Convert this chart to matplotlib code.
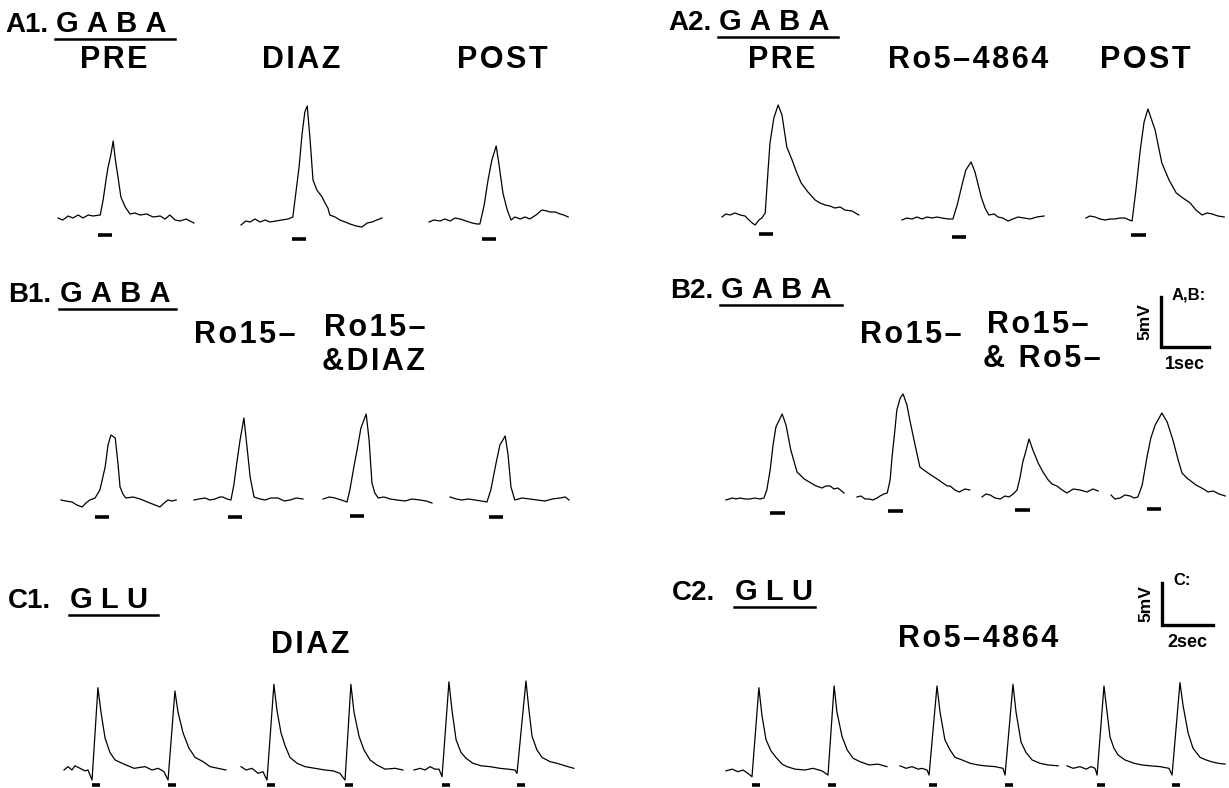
import matplotlib.pyplot as plt
from matplotlib.transforms import Affine2D

plt.rcParams['font.family'] = ['Liberation Sans', 'DejaVu Sans']
plt.rcParams['font.weight'] = 'bold'

# --- data: each sweep is time (s from sweep start) vs mV above baseline ---
a1_t = [[0, .10, .21, .31, .42, .52, .63, .73, .88, .94, 1.00, 1.04, 1.10, 1.15, 1.19, 1.25, 1.31, 1.40,
         1.50, 1.60, 1.71, 1.85, 1.98, 2.13, 2.23, 2.33, 2.44, 2.54, 2.67, 2.83],
        [0, .10, .19, .29, .40, .50, .60, .73, .85, .98, 1.08, 1.15, 1.21, 1.27, 1.33, 1.38, 1.44, 1.50,
         1.58, 1.69, 1.75, 1.81, 1.85, 1.96, 2.06, 2.17, 2.27, 2.40, 2.52, 2.63, 2.73, 2.83, 2.94],
        [0, .10, .23, .33, .44, .54, .65, .77, .90, 1.00, 1.06, 1.15, 1.23, 1.31, 1.40, 1.46, 1.54, 1.63,
         1.71, 1.79, 1.90, 2.0, 2.10, 2.23, 2.35, 2.46, 2.52, 2.63, 2.73, 2.81, 2.90]]
a1_v = [[0, -.2, .2, 0, .3, 0, .3, .2, .3, 1.8, 3.8, 5.0, 6.3, 7.7, 6.0, 4.1, 2.1, 1.1,
         .4, .5, .3, .4, .1, .2, -.1, .3, -.2, -.3, -.1, -.5],
        [-.3, .1, 0, .3, 0, .2, 0, .1, .2, .3, .5, 3.2, 5.5, 8.7, 11.0, 11.6, 8.2, 4.2,
         3.2, 2.5, 1.9, 1.4, .7, .5, .2, 0, -.2, -.4, -.5, -.1, 0, .2, .4],
        [0, .2, .1, .3, .1, .4, .3, .1, -.1, -.2, -.2, 1.7, 4.2, 6.2, 7.6, 5.7, 2.9, 1.2,
         .2, .5, .3, .5, .3, .7, 1.2, 1.1, 1.0, 1.0, .8, .7, .5]]
a1_gaba = [.83, 1.06, 1.10]
a1_labels = ['PRE', 'DIAZ', 'POST']

a2_t = [[0, .08, .17, .27, .38, .48, .54, .63, .69, .77, .83, .90, .96, 1.0, 1.08, 1.17, 1.25, 1.35,
         1.46, 1.56, 1.65, 1.79, 1.94, 2.04, 2.15, 2.25, 2.35, 2.46, 2.56, 2.71, 2.85],
        [0, .10, .21, .31, .42, .52, .63, .73, .83, .96, 1.06, 1.15, 1.25, 1.33, 1.44, 1.52, 1.65, 1.73,
         1.81, 1.92, 2.0, 2.10, 2.21, 2.31, 2.42, 2.54, 2.67, 2.81, 2.96],
        [0, .08, .19, .29, .40, .50, .60, .71, .81, .90, .96, 1.04, 1.13, 1.21, 1.29, 1.44, 1.58, 1.73,
         1.88, 2.02, 2.17, 2.29, 2.42, 2.52, 2.63, 2.75, 2.88]]
a2_v = [[0, .3, .2, .4, .2, .1, -.2, -.6, -.8, -.3, -.1, .4, 4.7, 7.4, 9.9, 11.2, 10.2, 7.0,
         5.7, 4.4, 3.4, 2.5, 1.7, 1.4, 1.2, 1.1, .9, 1.0, .7, .6, .2],
        [0, .2, .1, .3, .1, .3, .2, .3, .2, .1, .1, 1.5, 3.5, 5.0, 5.8, 4.8, 2.3, 1.2,
         .5, .6, .3, .2, -.1, .1, .3, .2, .1, .3, .4],
        [0, .2, .1, -.1, -.2, -.1, -.1, 0, 0, -.2, -.3, 2.8, 6.8, 9.6, 10.9, 8.8, 5.5, 3.8,
         2.5, 2.0, 1.5, .8, .3, .5, .4, .2, .1]]
a2_gaba = [.77, 1.04, .94]
a2_labels = ['PRE', 'Ro5\u20134864', 'POST']

b1_t = [[0, .10, .23, .33, .44, .52, .60, .71, .81, .92, .98, 1.04, 1.13, 1.19, 1.23, 1.29, 1.35,
         1.50, 1.65, 1.75, 1.85, 1.96, 2.06, 2.15, 2.23, 2.31, 2.40],
        [0, .10, .23, .33, .44, .54, .60, .69, .77, .83, .90, .96, 1.04, 1.10, 1.17, 1.25, 1.38,
         1.48, 1.60, 1.75, 1.88, 2.0, 2.13, 2.27],
        [0, .13, .25, .38, .50, .56, .65, .71, .79, .90, .96, 1.02, 1.08, 1.15, 1.27, 1.40, 1.54,
         1.71, 1.85, 2.02, 2.15, 2.27],
        [0, .13, .25, .38, .52, .65, .77, .85, .96, 1.04, 1.15, 1.21, 1.27, 1.35, 1.50, 1.67, 1.81,
         1.98, 2.13, 2.29, 2.40, 2.48]]
b1_v = [[0, -.1, -.2, -.5, -.7, -.3, 0, .2, 1.0, 3.3, 5.5, 6.5, 6.2, 3.5, 1.3, .6, .2,
         .3, .1, -.1, -.3, -.5, -.7, -.3, 0, -.1, 0],
        [0, .1, .2, 0, .1, .3, .3, .1, 0, 1.5, 4.0, 6.0, 8.2, 5.5, 2.3, .3, .1,
         0, .2, .2, -.1, 0, .2, .1],
        [0, .2, .1, -.1, -.3, .9, 3.4, 4.9, 7.1, 8.5, 5.9, 1.6, .6, .1, .2, 0, -.1,
         -.2, 0, -.1, -.2, -.4],
        [.3, .1, 0, .1, 0, -.1, -.2, 1.0, 3.7, 5.5, 6.4, 4.5, 1.3, 0, .2, .1, 0,
         -.1, .1, .2, .3, 0]]
b1_gaba = [.71, .71, .56, .81]

b2_t = [[0, .13, .21, .29, .40, .50, .60, .71, .79, .85, .92, .98, 1.04, 1.17, 1.25, 1.35, 1.48,
         1.63, 1.77, 1.88, 2.0, 2.08, 2.17, 2.25, 2.33, 2.46],
        [0, .08, .17, .25, .33, .42, .48, .56, .63, .69, .73, .79, .83, .90, .96, 1.04, 1.10,
         1.21, 1.31, 1.42, 1.54, 1.67, 1.79, 1.88, 1.94, 2.04, 2.13, 2.25, 2.35],
        [0, .08, .17, .27, .38, .48, .56, .65, .73, .79, .85, .92, .98, 1.06, 1.17, 1.27, 1.38,
         1.46, 1.56, 1.67, 1.77, 1.90, 2.04, 2.19, 2.31, 2.42],
        [0, .08, .19, .29, .40, .48, .56, .65, .75, .83, .92, 1.06, 1.17, 1.29, 1.40, 1.48, 1.58,
         1.69, 1.77, 1.85, 1.96, 2.02, 2.13, 2.25, 2.38]]
b2_v = [[0, .2, .1, .2, .1, .1, .2, .1, .2, 1.0, 3.0, 5.5, 7.3, 8.6, 7.5, 5.0, 2.8,
         2.1, 1.7, 1.4, 1.2, 1.4, 1.4, 1.1, 1.2, .7],
        [.1, .2, -.1, -.1, -.2, 0, .2, .4, .5, 1.8, 4.1, 6.8, 8.8, 10.0, 10.4, 9.3, 7.8,
         5.3, 3.1, 2.7, 2.3, 1.9, 1.5, 1.2, 1.2, .8, .6, .9, .8],
        [0, .3, .2, -.1, -.2, .1, 0, .3, .7, 1.9, 3.5, 4.7, 5.8, 4.7, 3.4, 2.5, 1.7,
         1.3, 1.1, .7, .4, .8, .7, .5, .8, .6],
        [.1, -.3, -.2, .1, 0, -.2, -.1, 1.1, 3.9, 5.8, 7.1, 8.3, 7.4, 5.6, 3.6, 2.3, 1.8,
         1.4, 1.1, .9, .6, .4, .5, .2, 0]]
b2_gaba = [.92, .65, .69, .75]

c1_t = [[0, .16, .31, .43, .63, .82, .94, 1.10, 1.33, 1.45, 1.61, 1.80, 2.0, 2.35, 2.75, 3.18, 3.45,
         3.69, 3.92, 4.08, 4.35, 4.47, 4.67, 4.90, 5.14, 5.45, 5.73, 6.04, 6.35],
        [0, .20, .43, .67, .86, 1.02, 1.29, 1.41, 1.57, 1.73, 1.92, 2.20, 2.51, 2.90, 3.29, 3.61, 3.88,
         4.08, 4.31, 4.43, 4.63, 4.82, 5.06, 5.33, 5.65, 6.04, 6.35],
        [0, .24, .43, .63, .82, .98, 1.10, 1.37, 1.49, 1.65, 1.84, 2.04, 2.31, 2.63, 2.98, 3.37, 3.69,
         3.96, 4.04, 4.39, 4.51, 4.63, 4.82, 5.02, 5.33, 5.61, 5.92, 6.27]]
c1_v = [[0, .4, 0, .5, .2, -.1, 0, -1.2, 9.8, 6.9, 3.8, 2.1, 1.2, .7, .2, .4, 0,
         .2, -.2, -1.2, 9.4, 6.9, 4.4, 2.6, 1.5, 1.0, .4, .2, 0],
        [.4, 0, .2, -.4, -.2, -1.2, 10.2, 7.1, 4.4, 2.9, 1.5, .8, .4, .2, 0, -.1, -.4,
         -1.2, 10.2, 6.9, 4.0, 2.4, 1.2, .6, .1, .2, 0],
        [0, .2, 0, .4, .1, .1, -.8, 10.5, 7.1, 3.6, 2.1, 1.4, .8, .5, .4, .2, .1,
         0, -.4, 10.6, 7.1, 4.0, 2.4, 1.5, 1.0, .8, .5, .2]]
c1_glu = [[1.10, 4.08], [1.02, 4.08], [1.10, 4.04]]

c2_t = [[0, .24, .47, .67, .86, 1.02, 1.29, 1.41, 1.57, 1.76, 1.96, 2.20, 2.39, 2.71, 3.10, 3.41, 3.76,
         4.0, 4.24, 4.35, 4.55, 4.75, 4.98, 5.25, 5.61, 5.96, 6.31],
        [0, .24, .47, .71, .86, 1.06, 1.14, 1.45, 1.57, 1.76, 1.96, 2.16, 2.43, 2.75, 3.06, 3.33, 3.73,
         4.04, 4.12, 4.43, 4.55, 4.75, 4.94, 5.18, 5.49, 5.80, 6.20],
        [0, .24, .51, .75, .94, 1.10, 1.18, 1.45, 1.57, 1.69, 1.84, 2.0, 2.27, 2.63, 2.94, 3.25, 3.65,
         4.0, 4.12, 4.43, 4.55, 4.75, 4.94, 5.22, 5.45, 5.65, 5.92, 6.20]]
c2_v = [[-.1, .1, -.2, 0, -.4, -.8, 9.8, 6.5, 3.6, 2.3, 1.5, .7, .4, .1, 0, .2, -.1,
         -.6, 10.0, 6.9, 4.0, 2.4, 1.4, 1.0, .6, .7, .4],
        [.5, .2, .4, .1, .2, 0, -.6, 10.0, 6.9, 3.6, 2.4, 1.5, 1.2, .8, .6, .5, .4,
         .2, -.6, 10.2, 6.9, 3.3, 2.1, 1.2, .8, .6, .5],
        [.5, .2, .4, .1, .4, .2, -.6, 10.0, 6.9, 3.9, 2.6, 1.8, 1.2, .8, .6, .5, .4,
         .2, -.6, 10.4, 7.7, 4.4, 2.6, 1.5, 1.2, 1.0, .8, .7]]
c2_glu = [[1.02, 4.0], [1.14, 4.12], [1.18, 4.12]]

stim_dur = 0.3

# --- layout (figure pixels) ---
W, H = 1229, 788
fig = plt.figure(figsize=(W / 100, H / 100), dpi=100)
ax = fig.add_axes([0, 0, 1, 1])
ax.set_xlim(0, W)
ax.set_ylim(H, 0)
ax.axis('off')

AB_PX_S, AB_PX_MV = 48, 10.0
C_PX_S, C_PX_MV = 25.5, 8.4


def draw_sweeps(ts, vs, stims, origins, px_s, px_mv, gap):
    for t, v, st, (x0, y0) in zip(ts, vs, stims, origins):
        tr = Affine2D().scale(px_s, -px_mv).translate(x0, y0) + ax.transData
        ax.plot(t, v, color='black', lw=0.9, transform=tr)
        if not isinstance(st, list):
            st = [st]
        for s in st:
            ax.plot([s, s + stim_dur], [-gap / px_mv] * 2, color='black', lw=2.6,
                    solid_capstyle='butt', transform=tr)


draw_sweeps(a1_t, a1_v, a1_gaba, [(58, 218), (241, 222), (429, 222)], AB_PX_S, AB_PX_MV, 17)
draw_sweeps(a2_t, a2_v, a2_gaba, [(722, 217), (902, 220), (1086, 218)], AB_PX_S, AB_PX_MV, 17)
draw_sweeps(b1_t, b1_v, b1_gaba, [(61, 500), (194, 500), (323, 499), (450, 500)], AB_PX_S, AB_PX_MV, 17)
draw_sweeps(b2_t, b2_v, b2_gaba, [(726, 500), (857, 498), (982, 497), (1111, 496)], AB_PX_S, AB_PX_MV, 13)
draw_sweeps(c1_t, c1_v, c1_glu, [(64, 770), (241, 770), (414, 770)], C_PX_S, C_PX_MV, 15)
draw_sweeps(c2_t, c2_v, c2_glu, [(726, 770), (900, 770), (1067, 770)], C_PX_S, C_PX_MV, 15)


def spaced(s, gap='\u200a'):
    return gap.join(s)


def panel_title(x, y, tag, word, xw, xe):
    ax.text(x, y, tag, fontsize=20, ha='left', va='baseline')
    ax.text(xw, y, spaced(word, '\u2009\u200a'), fontsize=21, ha='left', va='baseline')
    ax.plot([xw - 1, xe], [y + 7, y + 7], color='black', lw=1.8)


panel_title(5, 32, 'A1.', 'GABA', 56, 175)
panel_title(668, 30, 'A2.', 'GABA', 719, 838)
panel_title(8, 302, 'B1.', 'GABA', 60, 176)
panel_title(670, 298, 'B2.', 'GABA', 721, 842)
panel_title(8, 608, 'C1.', 'GLU', 70, 158)
panel_title(672, 600, 'C2.', 'GLU', 735, 815)

lab = dict(fontsize=22, ha='center', va='baseline')
for lbl, xc in zip(a1_labels, [114, 301, 502]):
    ax.text(xc, 68, spaced(lbl), **lab)
for lbl, xc in zip(a2_labels, [782, 968, 1145]):
    ax.text(xc, 68, spaced(lbl), **lab)
ax.text(245, 343, spaced('Ro15\u2013'), **lab)
ax.text(375, 336, spaced('Ro15\u2013'), **lab)
ax.text(374, 370, spaced('&DIAZ'), **lab)
ax.text(911, 343, spaced('Ro15\u2013'), **lab)
ax.text(1038, 333, spaced('Ro15\u2013'), **lab)
ax.text(1042, 367, spaced('& Ro5\u2013'), **lab)
ax.text(310, 653, spaced('DIAZ'), **lab)
ax.text(978, 647, spaced('Ro5\u20134864'), **lab)


def scale_bar(x, y, px_s, px_mv, sec, mv, tag, sec_lbl):
    tr = Affine2D().scale(px_s, -px_mv).translate(x, y) + ax.transData
    ax.plot([0, 0, sec], [mv, 0, 0], color='black', lw=2.4, transform=tr,
            solid_joinstyle='miter')
    ax.text(x + 11, y - mv * px_mv + 2, tag, fontsize=12, ha='left', va='baseline')
    ax.text(x - 16, y - mv * px_mv / 2, '5mV', fontsize=12.5, rotation=90,
            ha='center', va='center')
    ax.text(x + sec * px_s / 2, y + 22, sec_lbl, fontsize=13, ha='center', va='baseline')


scale_bar(1161, 347, AB_PX_S, AB_PX_MV, 1, 5, 'A,B:', '1sec')
scale_bar(1162, 625, C_PX_S, C_PX_MV, 2, 5, 'C:', '2sec')

fig.savefig('out.png', dpi=100)
